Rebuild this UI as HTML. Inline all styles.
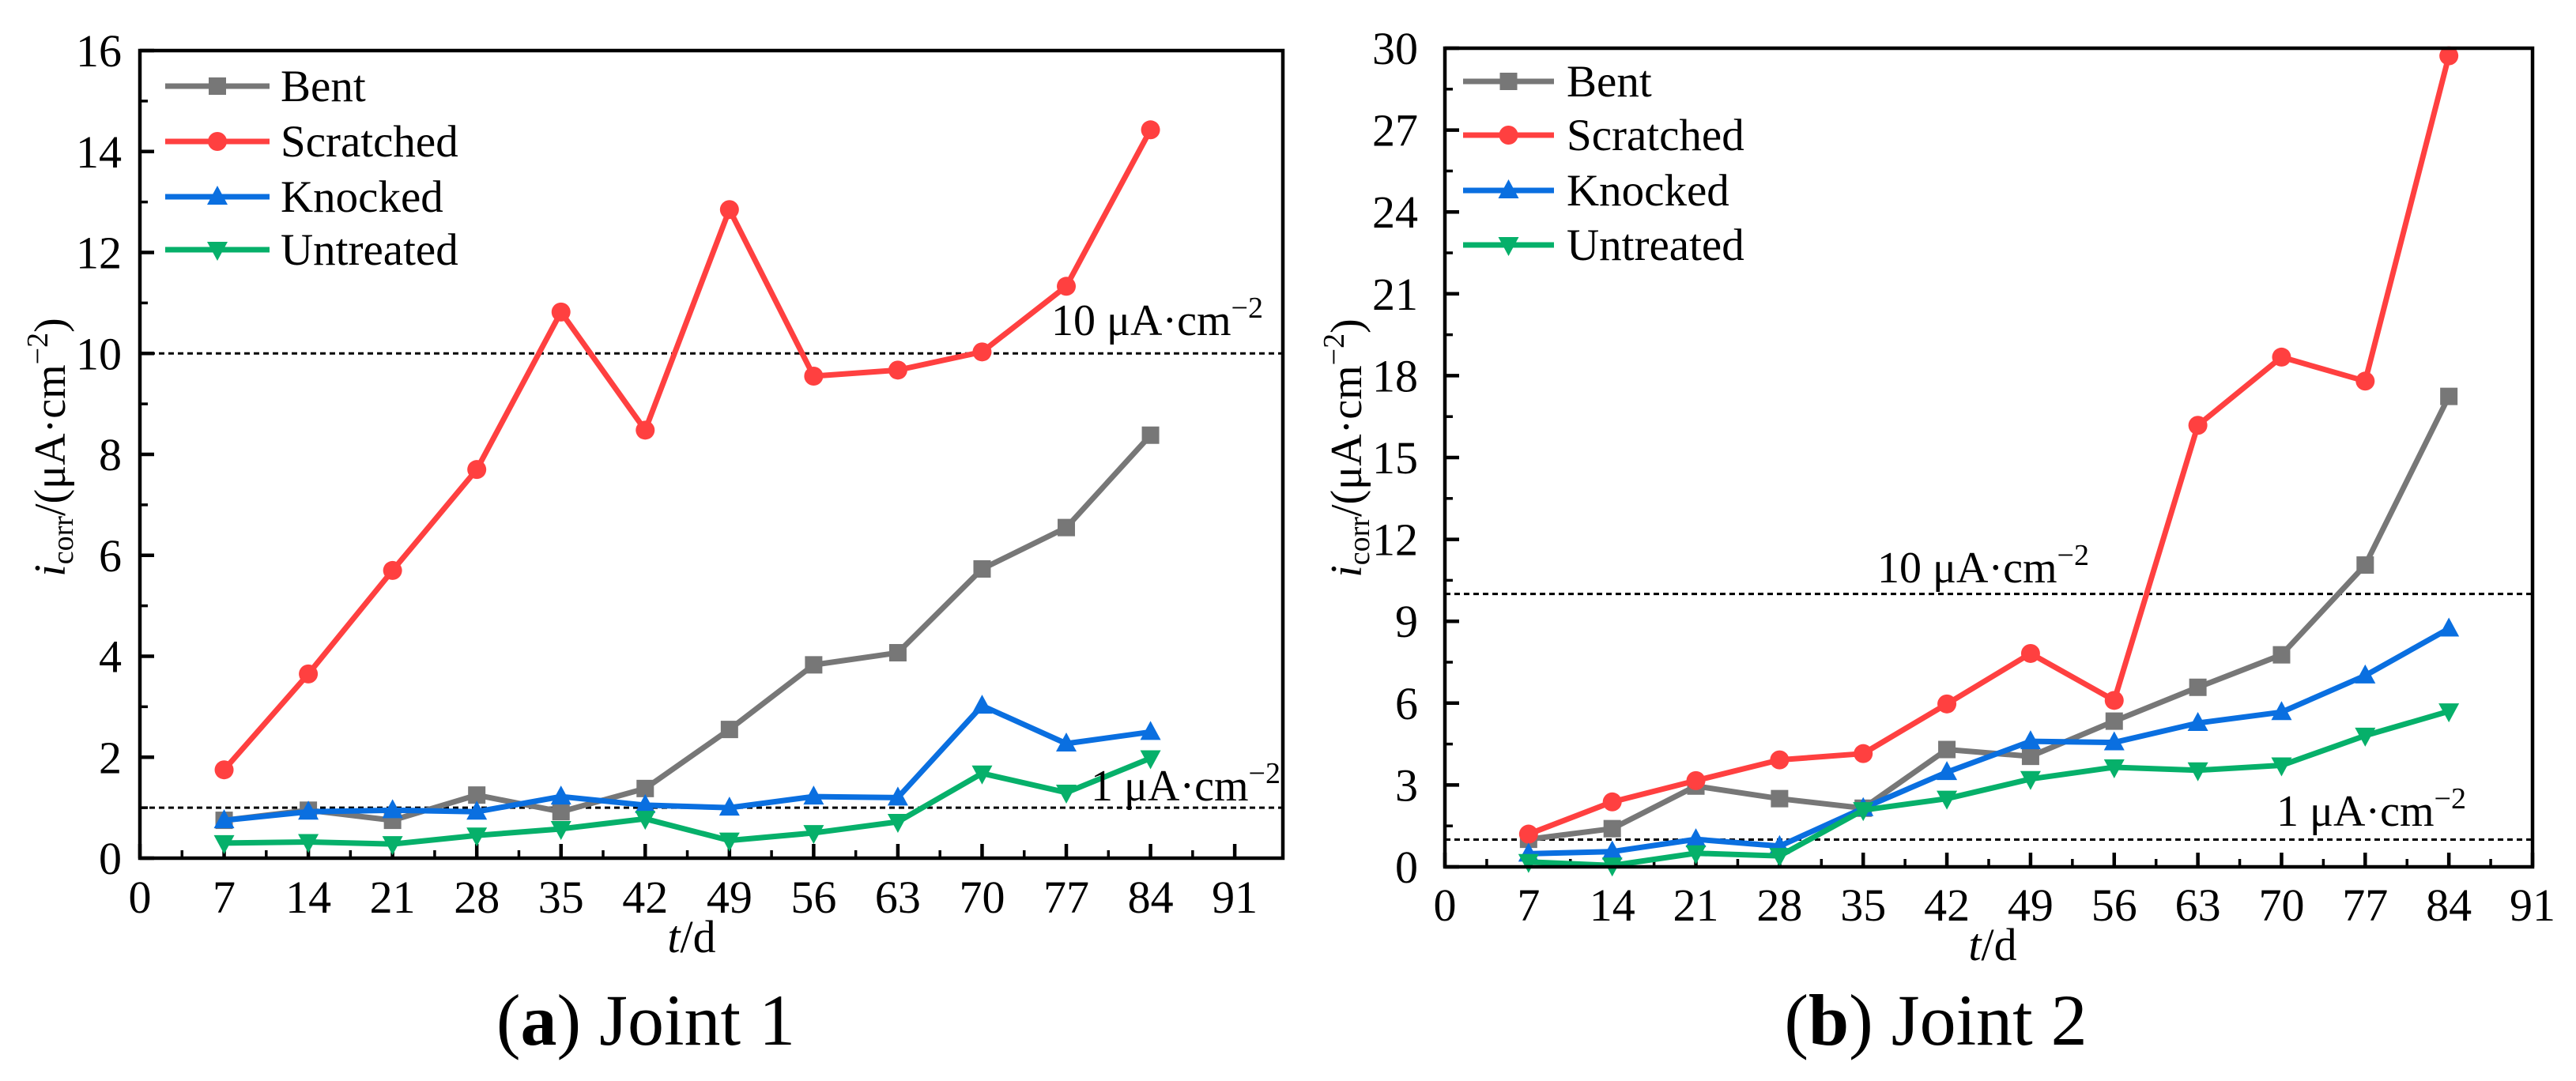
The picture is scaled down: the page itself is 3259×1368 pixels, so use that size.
<!DOCTYPE html>
<html><head><meta charset="utf-8"><style>
html,body{margin:0;padding:0;background:#fff;}
svg{display:block;font-family:"Liberation Serif","DejaVu Serif",serif;}
</style></head><body>
<svg id="fig" xmlns="http://www.w3.org/2000/svg" width="3259" height="1368" viewBox="0 0 3259 1368"></svg>
<script>
const days = [7,14,21,28,35,42,49,56,63,70,77,84];
const seriesNames = ["Bent","Scratched","Knocked","Untreated"];
const j1Bent = [0.75,0.95,0.75,1.25,0.92,1.38,2.55,3.83,4.07,5.73,6.55,8.38];
const j1Scratched = [1.75,3.65,5.7,7.7,10.82,8.48,12.85,9.55,9.67,10.03,11.33,14.43];
const j1Knocked = [0.75,0.92,0.95,0.92,1.22,1.05,1.0,1.22,1.2,3.02,2.27,2.5];
const j1Untreated = [0.3,0.32,0.28,0.45,0.58,0.78,0.35,0.5,0.72,1.68,1.3,1.98];
const j2Bent = [1.01,1.4,2.96,2.5,2.15,4.3,4.05,5.34,6.58,7.77,11.06,17.24];
const j2Scratched = [1.2,2.38,3.16,3.92,4.15,5.97,7.82,6.1,16.18,18.68,17.8,29.72];
const j2Knocked = [0.48,0.56,1.01,0.76,2.15,3.47,4.6,4.56,5.27,5.67,7.01,8.73];
const j2Untreated = [0.18,0.05,0.5,0.4,2.08,2.5,3.22,3.65,3.54,3.72,4.81,5.7];
const xTicks = [0,7,14,21,28,35,42,49,56,63,70,77,84,91];
const yTicks1 = [0,2,4,6,8,10,12,14,16];
const yTicks2 = [0,3,6,9,12,15,18,21,24,27,30];
const refLines = [10,1];

const NS="http://www.w3.org/2000/svg";
const svg=document.getElementById('fig');
function el(tag,attrs,parent,txt){const e=document.createElementNS(NS,tag);for(const k in attrs)e.setAttribute(k,attrs[k]);if(txt!==undefined)e.textContent=txt;(parent||svg).appendChild(e);return e;}
const colors=["#777777","#ff4040","#0a6fe0","#06b06a"];

function marker(g,k,x,y,c){
  let m;
  if(k===0){m=el('rect',{x:x-11,y:y-11,width:22,height:22,fill:c},g);}
  else if(k===1){m=el('circle',{cx:x,cy:y,r:12,fill:c},g);}
  else if(k===2){m=el('polygon',{points:`${x},${y-14} ${x-13},${y+10} ${x+13},${y+10}`,fill:c},g);}
  else {m=el('polygon',{points:`${x},${y+14} ${x-13},${y-10} ${x+13},${y-10}`,fill:c},g);}
  return m;
}

function panel(p){
  const g=el('g',{});
  
  
  const X=v=>p.x0+(v-0)*(p.x1-p.x0)/p.xmax;
  const Y=v=>p.y0-(v)*(p.y0-p.y1)/p.ymax;
  refLines.forEach((r,i)=>{
    const l=el('line',{x1:p.x0,x2:p.x1,y1:Y(r),y2:Y(r),stroke:'#000','stroke-width':3,'stroke-dasharray':'7,5'},g);
    
    
  });
  const tg=el('g',{},g);
  
  
  xTicks.forEach((t,i)=>{
    const x=X(t);
    el('line',{x1:x,x2:x,y1:p.y0,y2:p.y0-18,stroke:'#000','stroke-width':4.5},tg);
    if(i<xTicks.length-1){const xm=X(t+3.5);el('line',{x1:xm,x2:xm,y1:p.y0,y2:p.y0-10,stroke:'#000','stroke-width':3.5},tg);}
    const tx=el('text',{x:x,y:p.xLabelY,'font-size':58,'text-anchor':'middle'},tg,String(t));
    
    
  });
  const yg=el('g',{},g);
  
  
  const yt=p.yTicks;const step=yt[1]-yt[0];
  yt.forEach((t,i)=>{
    const y=Y(t);
    el('line',{x1:p.x0,x2:p.x0+18,y1:y,y2:y,stroke:'#000','stroke-width':4.5},yg);
    if(i<yt.length-1){const ym=Y(t+step/2);el('line',{x1:p.x0,x2:p.x0+10,y1:ym,y2:ym,stroke:'#000','stroke-width':3.5},yg);}
    const tx=el('text',{x:p.yLabelX,y:y+20,'font-size':58,'text-anchor':'end'},yg,String(t));
    
    
  });
  p.series.forEach((vals,k)=>{
    const sg=el('g',{},g);
    
    
    const pts=days.map((d,i)=>X(d)+','+Y(vals[i])).join(' ');
    el('polyline',{points:pts,fill:'none',stroke:colors[k],'stroke-width':7,'stroke-linejoin':'round'},sg);
    days.forEach((d,i)=>{const m=marker(sg,k,X(d),Y(vals[i]),colors[k]);
      
      });
  });
  const fr=el('rect',{x:p.x0,y:p.y1,width:p.x1-p.x0,height:p.y0-p.y1,fill:'none',stroke:'#000','stroke-width':4.5},g);
  
  
  p.refLabels.forEach((rl,i)=>{
    const t=el('text',{x:rl[0],y:rl[1],'font-size':56},g);
    
    
    t.innerHTML=rl[2]+' μA·cm<tspan dy="-22" font-size="38">−2</tspan>';
  });
  const lg=el('g',{},g);
  
  
  seriesNames.forEach((n,k)=>{
    const y=p.legY[k];
    const eg=el('g',{},lg);
    
    
    el('line',{x1:p.legX[0],x2:p.legX[1],y1:y,y2:y,stroke:colors[k],'stroke-width':7},eg);
    marker(eg,k,(p.legX[0]+p.legX[1])/2,y,colors[k]);
    el('text',{x:p.legX[2],y:y+19,'font-size':57},eg,n);
  });
  const yT=el('text',{x:0,y:0,'font-size':56,'text-anchor':'middle',transform:`translate(${p.yTitle[0]},${p.yTitle[1]}) rotate(-90)`},g);
  
  
  yT.innerHTML='<tspan font-style="italic">i</tspan><tspan font-size="38" dy="10">corr</tspan><tspan dy="-10">/(μA·cm</tspan><tspan font-size="38" dy="-22">−2</tspan><tspan dy="22">)</tspan>';
  const xT=el('text',{x:p.xTitle[0],y:p.xTitle[1],'font-size':58,'text-anchor':'middle'},g);
  
  
  xT.innerHTML='<tspan font-style="italic">t</tspan>/d';
  const cap=el('text',{x:p.cap[0],y:p.cap[1],'font-size':92,'text-anchor':'middle'},g);
  
  
  cap.innerHTML='(<tspan font-weight="bold">'+p.capL+'</tspan>) '+p.capT;
}

panel({name:'panel-joint-1',x0:177,x1:1623,y0:1086,y1:64,xmax:95,ymax:16,yTicks:yTicks1,
  series:[j1Bent,j1Scratched,j1Knocked,j1Untreated],xLabelY:1155,yLabelX:154,
  refLabels:[[1330,424,'10'],[1380,1013,'1']],legY:[109,179,249,316],legX:[209,341,355],
  yTitle:[82,566],xTitle:[875,1205],cap:[817,1322],capL:'a',capT:'Joint 1'});
panel({name:'panel-joint-2',x0:1828,x1:3204,y0:1097,y1:61,xmax:91,ymax:30,yTicks:yTicks2,
  series:[j2Bent,j2Scratched,j2Knocked,j2Untreated],xLabelY:1165,yLabelX:1794,
  refLabels:[[2375,737,'10'],[2880,1045,'1']],legY:[103,171,241,310],legX:[1851,1966,1982],
  yTitle:[1722,567],xTitle:[2521,1215],cap:[2449,1322],capL:'b',capT:'Joint 2'});
</script>
</body></html>
